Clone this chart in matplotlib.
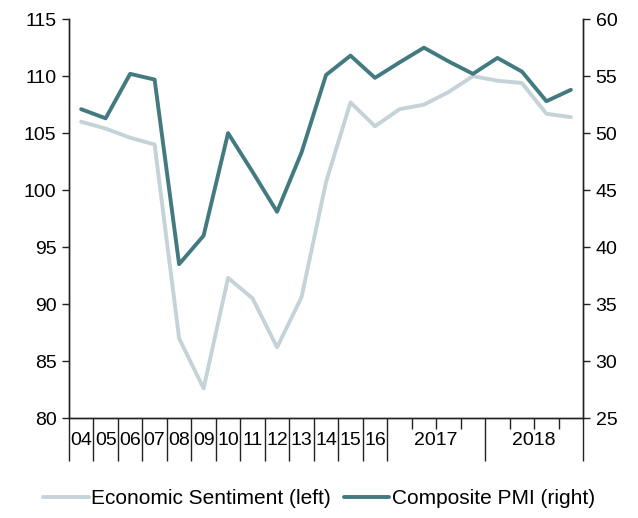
import numpy as np
import matplotlib
matplotlib.use('Agg')
import matplotlib.pyplot as plt
from matplotlib.transforms import blended_transform_factory

plt.rcParams['font.family'] = ['Liberation Sans', 'DejaVu Sans']

# annual points 2004-2016, then quarterly 2017-2018
year_labels = ['04', '05', '06', '07', '08', '09', '10', '11', '12', '13', '14', '15', '16']
quarter_groups = ['2017', '2018']
sentiment = [106.0, 105.4, 104.6, 104.0, 87.0, 82.6, 92.3, 90.5, 86.2, 90.6, 100.7, 107.7, 105.6,
             107.1, 107.5, 108.6, 110.0, 109.6, 109.4, 106.7, 106.4]
pmi = [52.1, 51.3, 55.2, 54.7, 38.5, 41.0, 50.0, 46.6, 43.1, 48.3, 55.1, 56.8, 54.85,
       56.2, 57.5, 56.3, 55.2, 56.6, 55.4, 52.8, 53.8]

light = '#C5D3D9'
dark = '#427A80'

n_years = len(year_labels)
n_slots = n_years + 4 * len(quarter_groups)
x = np.arange(len(sentiment)) + 0.5

fig = plt.figure(figsize=(6.38, 5.18), dpi=100)
ax = fig.add_axes([0.108, 0.193, 0.806, 0.770])
ax2 = ax.twinx()

l1, = ax.plot(x, sentiment, color=light, lw=2.8, solid_capstyle='round', solid_joinstyle='round',
              label='Economic Sentiment (left)')
l2, = ax2.plot(x, pmi, color=dark, lw=2.8, solid_capstyle='round', solid_joinstyle='round',
               label='Composite PMI (right)')

ax.set_xlim(0, n_slots)
ax.set_ylim(80, 115)
ax.set_yticks(np.arange(80, 116, 5))
ax2.set_ylim(25, 60)
ax2.set_yticks(np.arange(25, 61, 5))

for a in (ax, ax2):
    a.spines['top'].set_visible(False)
    for s in a.spines.values():
        s.set_linewidth(1.0)
        s.set_color('#222222')
    a.tick_params(axis='y', direction='out', length=5, width=1.0, labelsize=14, colors='#222222',
                  labelcolor='black', pad=4)

# category separators
major = list(range(0, n_years + 1)) + [n_years + 4 * (k + 1) for k in range(len(quarter_groups))]
minor = [n_years + 4 * k + q for k in range(len(quarter_groups)) for q in (1, 2, 3)]
ax.set_xticks(major)
ax.set_xticks(minor, minor=True)
ax.set_xticklabels([])
ax.tick_params(axis='x', which='major', direction='out', length=31, width=1.0, colors='#222222')
ax.tick_params(axis='x', which='minor', direction='out', length=8, width=1.0, colors='#222222')

trans = blended_transform_factory(ax.transData, ax.transAxes)
for i, lab in enumerate(year_labels):
    ax.text(i + 0.5, -0.056, lab, transform=trans, ha='center', va='center', fontsize=14)
for k, lab in enumerate(quarter_groups):
    ax.text(n_years + 4 * k + 2, -0.056, lab, transform=trans, ha='center', va='center', fontsize=14)

fig.legend(handles=[l1, l2], loc='center', bbox_to_anchor=(0.5, 0.038), ncol=2, frameon=False,
           fontsize=15, handlelength=2.2, handletextpad=0.12, columnspacing=0.6)

fig.savefig('out.png', dpi=100)
